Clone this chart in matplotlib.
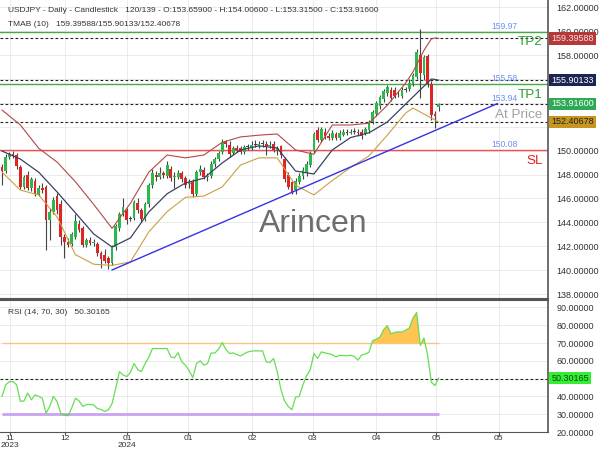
import numpy as np
import matplotlib.pyplot as plt
import matplotlib.transforms as mtransforms

plt.rcParams['font.family'] = ['Liberation Sans', 'DejaVu Sans']

# daily USDJPY bars
opens = [148.6, 148.3, 149.5, 149.7, 149.6, 148.6, 147.0, 148.0, 146.9, 147.5,
         146.4, 146.9, 147.0, 144.2, 144.9, 146.2, 145.5, 142.8, 142.4, 142.2,
         142.8, 143.9, 143.5, 142.1, 142.5, 142.3, 142.2, 141.4, 141.3, 141.0,
         140.6, 141.9, 143.5, 144.7, 145.0, 144.3, 144.4, 145.6, 145.0, 144.3,
         145.5, 147.1, 148.0, 147.8, 148.1, 147.9, 148.5, 147.8, 147.8, 148.1,
         147.7, 147.2, 147.4, 146.4, 148.2, 148.4, 147.8, 147.9, 148.9, 149.3,
         149.9, 150.7, 150.5, 149.8, 150.2, 150.2, 149.9, 150.3, 150.3, 150.5,
         150.5, 150.6, 150.6, 150.4, 150.6, 150.1, 150.4, 149.3, 148.0, 147.4,
         146.7, 147.4, 147.9, 148.1, 148.8, 150.0, 151.7, 150.9, 151.6, 151.2,
         151.1, 151.4, 151.1, 151.3, 151.5, 151.5, 151.6, 151.6, 151.6, 151.4,
         151.7, 152.4, 153.1, 153.7, 154.3, 154.8, 155.1, 155.1, 154.8, 154.6,
         155.1, 155.2, 155.6, 156.2, 158.0, 156.3, 157.9, 155.6, 153.1, 153.659]
highs = [148.9, 149.7, 149.9, 150.0, 149.8, 148.8, 148.0, 148.3, 147.8, 147.7,
         147.1, 147.3, 147.1, 145.2, 146.1, 146.5, 145.9, 143.0, 142.7, 143.2,
         144.7, 144.2, 143.7, 142.7, 142.8, 142.6, 142.4, 141.6, 141.8, 141.2,
         142.1, 143.9, 144.9, 146.0, 145.2, 144.5, 145.9, 146.0, 145.2, 145.7,
         147.3, 148.5, 148.3, 148.6, 148.3, 149.1, 148.7, 148.2, 148.4, 148.3,
         147.9, 147.6, 147.6, 148.4, 148.8, 148.6, 148.1, 149.1, 149.5, 150.0,
         151.0, 150.9, 150.8, 150.4, 150.5, 150.4, 150.5, 150.6, 150.8, 150.9,
         150.8, 150.9, 150.8, 150.8, 150.8, 150.4, 150.5, 149.5, 148.2, 147.5,
         147.7, 148.1, 148.6, 149.1, 150.0, 151.6, 152.0, 152.0, 151.9, 151.5,
         151.7, 151.6, 151.7, 151.8, 151.8, 151.8, 151.9, 151.8, 151.8, 152.0,
         152.6, 153.4, 154.2, 154.7, 155.2, 155.5, 155.3, 155.3, 155.0, 155.3,
         155.3, 156.0, 156.5, 158.5, 160.2, 158.0, 158.1, 155.8, 153.3, 154.006]
lows = [147.1, 148.1, 149.3, 149.4, 148.5, 146.8, 146.8, 146.7, 146.6, 146.2,
        146.2, 146.5, 141.7, 142.5, 144.7, 144.7, 142.1, 141.0, 141.9, 142.0,
        142.6, 143.2, 141.9, 141.9, 142.1, 142.0, 141.2, 140.2, 140.6, 140.1,
        140.4, 141.7, 143.3, 144.5, 143.9, 144.1, 144.2, 144.8, 144.0, 144.1,
        145.3, 146.9, 147.5, 147.6, 147.7, 147.7, 147.5, 146.9, 147.6, 147.4,
        146.9, 146.9, 146.1, 146.2, 148.0, 147.6, 147.5, 147.7, 148.6, 149.1,
        149.7, 150.3, 149.5, 149.6, 149.9, 149.7, 149.7, 150.1, 150.1, 150.3,
        150.2, 150.3, 149.6, 150.2, 149.9, 149.6, 149.4, 147.4, 146.8, 146.4,
        146.4, 147.2, 147.6, 147.9, 148.6, 149.8, 150.7, 150.7, 151.0, 150.9,
        150.9, 150.9, 150.9, 151.2, 151.3, 151.4, 151.4, 151.2, 151.0, 151.3,
        151.5, 152.2, 152.9, 153.5, 154.1, 154.6, 154.2, 154.4, 154.5, 154.4,
        154.9, 155.0, 155.4, 156.0, 154.4, 155.9, 155.3, 152.6, 151.9, 153.315]
closes = [148.3, 149.5, 149.7, 149.6, 148.7, 147.0, 147.8, 146.9, 147.6, 146.4,
          146.9, 146.7, 144.2, 144.9, 145.9, 145.0, 142.8, 142.4, 142.1, 143.0,
          144.1, 143.4, 142.1, 142.5, 142.3, 142.4, 141.4, 140.9, 140.8, 140.6,
          141.9, 143.7, 144.7, 145.3, 144.2, 144.3, 145.7, 145.0, 144.3, 145.5,
          147.1, 148.1, 147.8, 148.1, 148.0, 148.8, 147.7, 147.9, 148.1, 147.6,
          147.1, 147.3, 146.4, 148.2, 148.5, 147.8, 147.9, 148.9, 149.3, 149.8,
          150.7, 150.6, 149.7, 150.2, 150.1, 149.9, 150.3, 150.3, 150.5, 150.5,
          150.6, 150.6, 150.4, 150.5, 150.1, 150.2, 149.6, 147.6, 147.0, 146.5,
          147.5, 147.9, 148.4, 148.9, 149.8, 151.4, 150.9, 151.8, 151.2, 151.1,
          151.5, 151.1, 151.5, 151.6, 151.5, 151.6, 151.6, 151.5, 151.2, 151.8,
          152.4, 153.2, 154.0, 154.5, 155.0, 155.3, 154.4, 154.6, 154.8, 155.1,
          155.1, 155.7, 156.3, 158.3, 156.5, 157.8, 155.6, 153.0, 152.9, 153.916]

rsi = [40.0, 46.5, 48.3, 48.3, 46.5, 37.2, 37.5, 41.9, 38.1, 40.9,
       40.0, 39.0, 30.5, 34.4, 40.0, 37.2, 30.5, 29.4, 29.2, 33.5,
       39.0, 37.5, 34.4, 35.4, 35.5, 35.2, 33.1, 32.7, 31.5, 32.5,
       36.0, 44.6, 53.9, 52.0, 51.2, 53.5, 58.5, 55.0, 54.0, 58.5,
       62.0, 66.9, 66.9, 66.9, 66.9, 66.9, 62.2, 61.7, 64.6, 59.4,
       57.5, 54.5, 50.6, 58.5, 60.0, 57.6, 58.5, 64.4, 64.4, 66.5,
       70.3, 66.5, 64.1, 64.5, 63.5, 62.8, 64.0, 65.0, 65.5, 65.6,
       65.6, 65.6, 59.4, 59.1, 61.3, 54.0, 44.0, 37.5, 34.4, 32.5,
       39.6, 40.0, 46.5, 51.5, 55.0, 64.1, 61.3, 65.0, 64.5, 64.0,
       63.5, 62.2, 63.1, 63.0, 62.8, 63.2, 62.5, 60.4, 63.3, 63.8,
       64.8, 71.3, 72.2, 73.3, 77.5, 79.8, 75.2, 76.0, 76.3, 76.2,
       77.2, 78.5, 84.0, 87.2, 68.7, 72.8, 63.1, 48.0, 46.1, 50.30165]

# TMA bands sampled along the bars
band_idx = [0, 5, 10, 15, 20, 25, 30, 35, 40, 45, 50, 55, 60, 65, 70, 75,
            80, 85, 90, 95, 100, 105, 110, 112, 115, 117, 118, 119]
tma_upper = [153.4, 152.15, 150.2, 149.05, 147.4, 145.5, 143.5, 145.6, 148.2, 149.64,
             149.4, 149.64, 150.7, 151.15, 151.3, 151.4, 150.06, 149.7, 152.15, 152.15,
             152.3, 153.8, 155.66, 156.6, 158.4, 159.35, 159.43, 159.39588]
tma_mid = [149.97, 149.3, 148.2, 146.55, 144.8, 143.03, 141.94, 142.7, 144.87, 146.4,
           147.3, 147.7, 148.97, 150.06, 150.4, 150.23, 148.3, 148.05, 150.06, 151.1,
           151.5, 152.4, 153.9, 154.5, 155.4, 156.0, 155.96, 155.90133]
tma_lower = [148.2, 146.7, 146.3, 144.46, 141.3, 140.5, 140.4, 140.7, 143.2, 144.9,
             146.1, 146.2, 146.97, 148.8, 149.4, 149.4, 147.1, 146.3, 147.5, 148.6,
             149.56, 151.3, 153.15, 153.57, 153.07, 152.73, 152.57, 152.40678]

tick_pos = [2.2, 17.2, 34.1, 50.7, 68.1, 84.7, 101.9, 118.3, 135.4]
tick_labels = ['11\n2023', '12', '01\n2024', '01', '02', '03', '04', '05', '05']

tp2, tp1, sl = 159.97, 155.58, 150.08
trend_x = [30, 135]
trend_y = [140.02, 153.94]

n = len(closes)
x = np.arange(n)
o = np.array(opens)
h = np.array(highs)
l = np.array(lows)
c = np.array(closes)
r = np.array(rsi)


def axis_fmt(hidden):
    # price labels hidden behind the coloured value boxes
    def f(v, pos):
        if any(abs(v - hv) < 1e-6 for hv in hidden):
            return ''
        return '%.5f' % v
    return plt.FuncFormatter(f)


fig = plt.figure(figsize=(6, 4.5), dpi=100)
ax = fig.add_axes([0, 1 - 299 / 450, 548 / 600, 299 / 450])
ax2 = fig.add_axes([0, 1 - 432 / 450, 548 / 600, 132 / 450])

xlim = (-0.55, 148.8)
for a in (ax, ax2):
    a.set_xlim(*xlim)
    a.set_xticks(tick_pos)
    a.grid(True, color='#e8e8e8', lw=0.6)
    a.set_axisbelow(True)
    a.yaxis.tick_right()
    a.tick_params(axis='y', length=0, pad=6, labelsize=6.5, labelcolor='#333333')
    a.spines['left'].set_visible(False)
    for s in ('right', 'top', 'bottom'):
        a.spines[s].set_color('#555555')
    a.spines['right'].set_linewidth(1.2)
ax.spines['top'].set_visible(False)
ax.spines['bottom'].set_linewidth(1.5)
ax2.spines['top'].set_linewidth(1.5)
ax.tick_params(axis='x', length=0, labelbottom=False)
ax2.set_xticklabels(tick_labels)
ax2.tick_params(axis='x', length=2, labelsize=6, pad=0.5, labelcolor='#333333', color='#555555')
for t in ax2.get_xticklabels():
    t.set_ha('center')
    t.set_linespacing(0.85)

# main panel
ax.set_ylim(137.59, 162.61)
ax.set_yticks(np.arange(138, 163, 2))
ax.yaxis.set_major_formatter(axis_fmt([152, 154, 156]))

up_col, dn_col, doji_col = '#2db84d', '#e02424', '#444444'
ax.vlines(x, l, h, color='#444444', lw=0.8, zorder=3)
body_col = [doji_col if abs(cc - oo) < 0.05 else (up_col if cc > oo else dn_col) for oo, cc in zip(o, c)]
height = np.where(np.abs(c - o) < 0.06, 0.06, c - o)
ax.bar(x, height, bottom=o, width=0.75, color=body_col, zorder=4, linewidth=0)

ax.plot(band_idx, tma_upper, color='#b24848', lw=0.8, zorder=5)
ax.plot(band_idx, tma_mid, color='#3a4262', lw=0.9, zorder=5)
ax.plot(band_idx, tma_lower, color='#c9a043', lw=0.8, zorder=5)

ax.plot(trend_x, trend_y, color='#3434e0', lw=1.0, zorder=6)

dash = dict(color='#222222', lw=0.8, ls=(0, (2.5, 2)), zorder=2)
for v in (tma_upper[-1], tma_mid[-1], c[-1], tma_lower[-1]):
    ax.axhline(v, **dash)
ax.axhline(tp2, color='#44aa44', lw=1.0, zorder=2)
ax.axhline(tp1, color='#44aa44', lw=1.0, zorder=2)
ax.axhline(sl, color='#f05050', lw=1.0, zorder=2)

trans = mtransforms.blended_transform_factory(ax.transAxes, ax.transData)
for v, s in ((tp2, '159.97'), (tp1, '155.58'), (trend_y[1], '153.94'), (sl, '150.08')):
    ax.annotate(s, (0.896, v), xycoords=trans, xytext=(0, 0.5), textcoords='offset points',
                ha='left', va='bottom', fontsize=6.2, color='#6f8ff0', zorder=7)
for v, s, col in ((tp2, 'TP2', '#2e9e2e'), (tp1, 'TP1', '#2e9e2e'),
                  (c[-1], 'At Price', '#a0a0a0'), (sl, 'SL', '#e02424')):
    ax.annotate(s, (0.99, v), xycoords=trans, xytext=(0, -3.5), textcoords='offset points',
                ha='right', va='top', fontsize=9.7, color=col, zorder=7)

box_specs = [(tma_upper[-1], '#b3393b', '#ffe0e0'), (tma_mid[-1], '#1c2452', '#ffffff'),
             (c[-1], '#2eaa55', '#ffffff'), (tma_lower[-1], '#c8961e', '#222222')]
for v, bg, fg in box_specs:
    ax.text(1.006, v, '%.5f' % v, transform=trans, ha='left', va='center', fontsize=6.5,
            color=fg, bbox=dict(boxstyle='square,pad=0.2', fc=bg, ec='none'), clip_on=False,
            zorder=10)

ax.text(313 / 548, 1 - 224 / 299, 'Arincen', transform=ax.transAxes, ha='center', va='center',
        fontsize=23, color='#6e6e6e', zorder=1)

fig.text(8 / 600, 1 - 10 / 450,
         'USDJPY - Daily - Candlestick   120/139 - O:153.65900 - H:154.00600 - L:153.31500 - C:153.91600',
         fontsize=6, color='#333333', va='center')
fig.text(8 / 600, 1 - 25 / 450, 'TMAB (10)   159.39588/155.90133/152.40678',
         fontsize=6, color='#333333', va='center')

# RSI panel
ax2.set_ylim(21.8, 94.2)
ax2.set_yticks(np.arange(20, 91, 10))
ax2.yaxis.set_major_formatter(axis_fmt([50]))
ax2.hlines(70, 0, n - 1, color='#f5c77e', lw=1.0, zorder=2)
ax2.hlines(30, 0, n - 1, color='#c9a2f0', lw=2.0, zorder=2)
ax2.axhline(50, **dash)
ax2.fill_between(x, r, 70, where=r > 70, interpolate=True, color='#ffc451', lw=0, zorder=3)
ax2.fill_between(x, r, 30, where=r < 30, interpolate=True, color='#5b6fd8', lw=0, zorder=3)
ax2.plot(x, r, color='#66dd55', lw=0.9, zorder=4)
ax2.text(1.006, r[-1], '%.5f' % r[-1],
         transform=mtransforms.blended_transform_factory(ax2.transAxes, ax2.transData),
         ha='left', va='center', fontsize=6.5, color='#114411',
         bbox=dict(boxstyle='square,pad=0.2', fc='#33ee33', ec='none'), clip_on=False, zorder=10)
fig.text(8 / 600, 1 - 312 / 450, 'RSI (14, 70, 30)   50.30165', fontsize=6, color='#333333', va='center')

fig.savefig('out.png', dpi=100)
